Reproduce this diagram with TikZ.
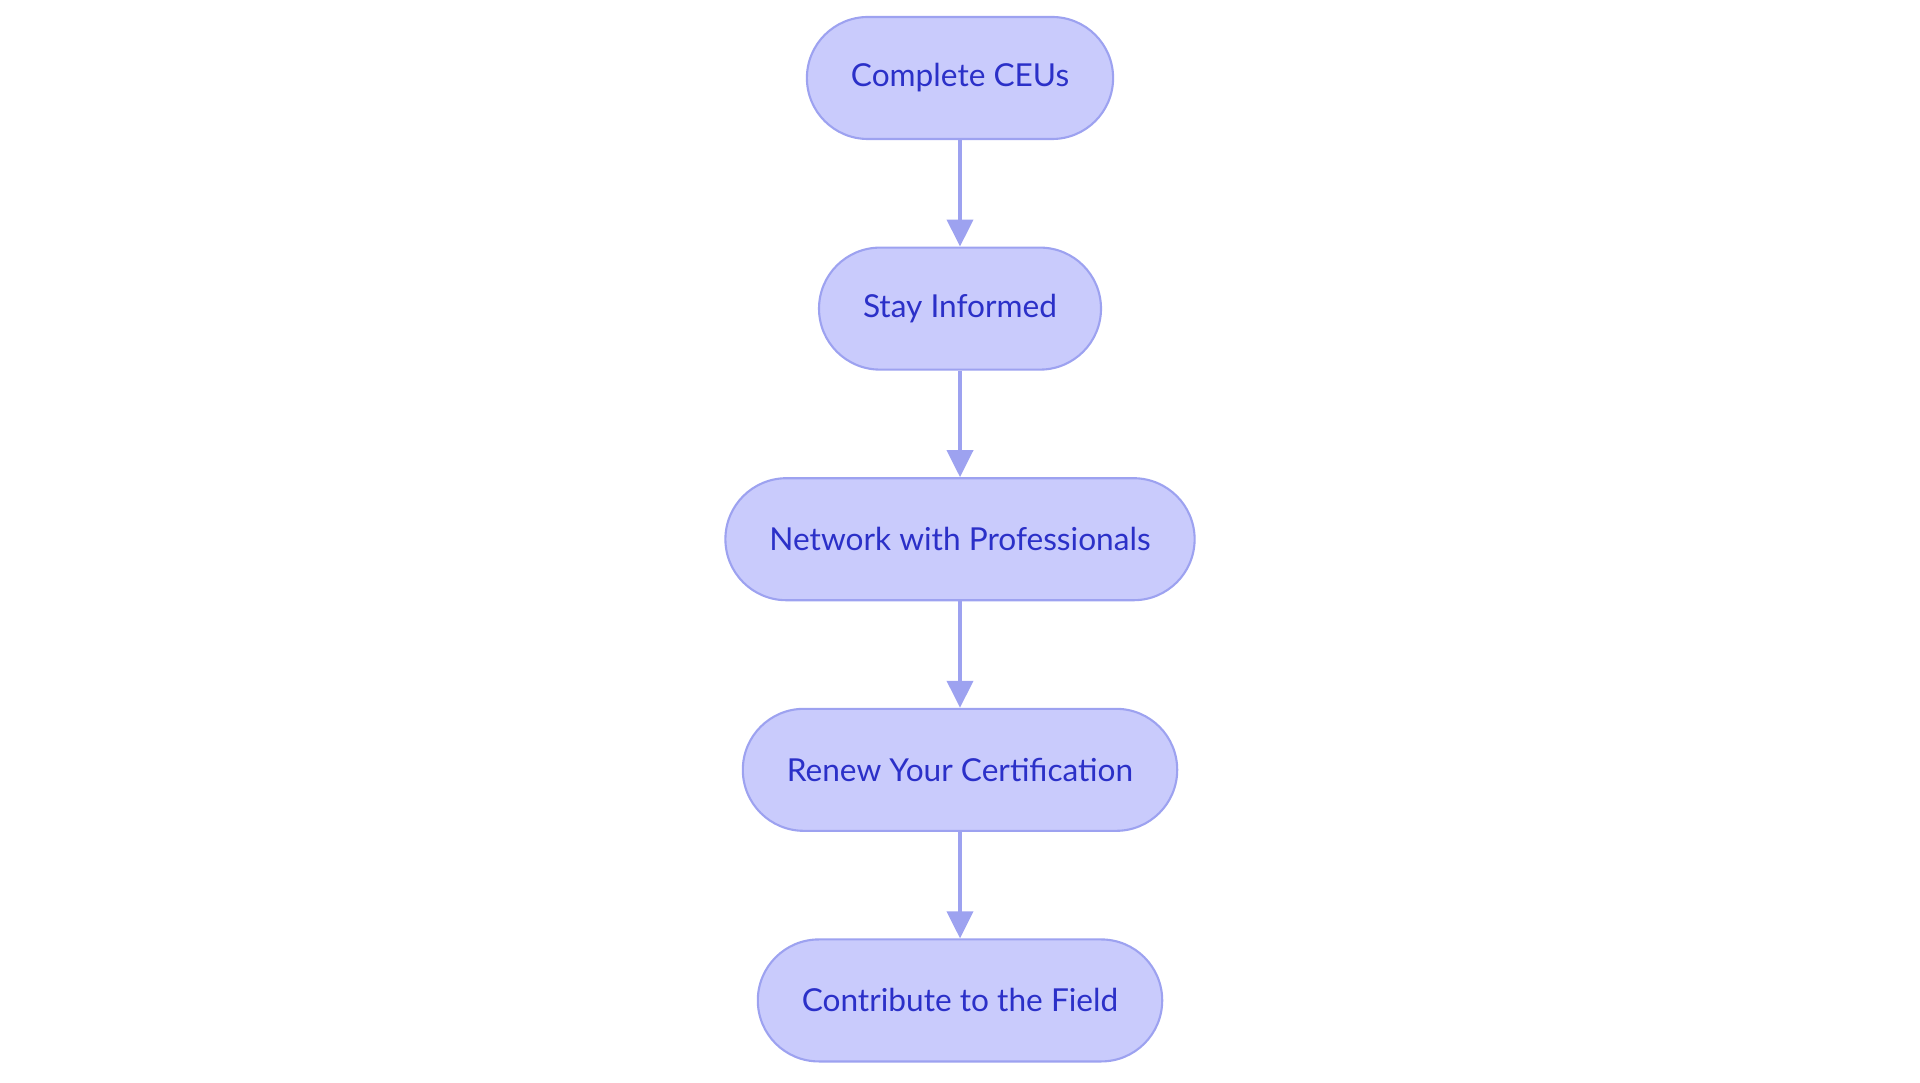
\documentclass[tikz,border=0pt]{standalone}
\usepackage{fontspec}
\setmainfont{Lato}
\usetikzlibrary{positioning,arrows.meta}
\definecolor{stagefill}{HTML}{C9CBFC}
\definecolor{stageline}{HTML}{9DA2F0}
\definecolor{stagetext}{HTML}{2B30C8}

\begin{document}
\begin{tikzpicture}[
    stage/.style = {draw = stageline, fill = stagefill, text = stagetext, line width = 0.6pt,
                    rounded corners = 0.61cm, minimum height = 1.22cm, inner xsep = 0.44cm,
                    font = \fontsize{9}{11}\selectfont},
    link/.style = {draw = stageline, line width = 1.1pt, -{Triangle[width = 0.26cm, length = 0.27cm]}},
    node distance = 1.065cm
]

    % page frame
    \useasboundingbox (0,0) rectangle (19.2,-10.83);

    % the five steps
    \node[stage] (ceus) at (9.6,-0.78) {Complete CEUs};
    \node[stage, below = of ceus] (informed) {Stay Informed};
    \node[stage, below = of informed] (network) {Network with Professionals};
    \node[stage, below = of network] (renew) {Renew Your Certification};
    \node[stage, below = of renew] (field) {Contribute to the Field};

    % arrows between them
    \draw[link] (ceus) -- (informed);
    \draw[link] (informed) -- (network);
    \draw[link] (network) -- (renew);
    \draw[link] (renew) -- (field);

\end{tikzpicture}
\end{document}
